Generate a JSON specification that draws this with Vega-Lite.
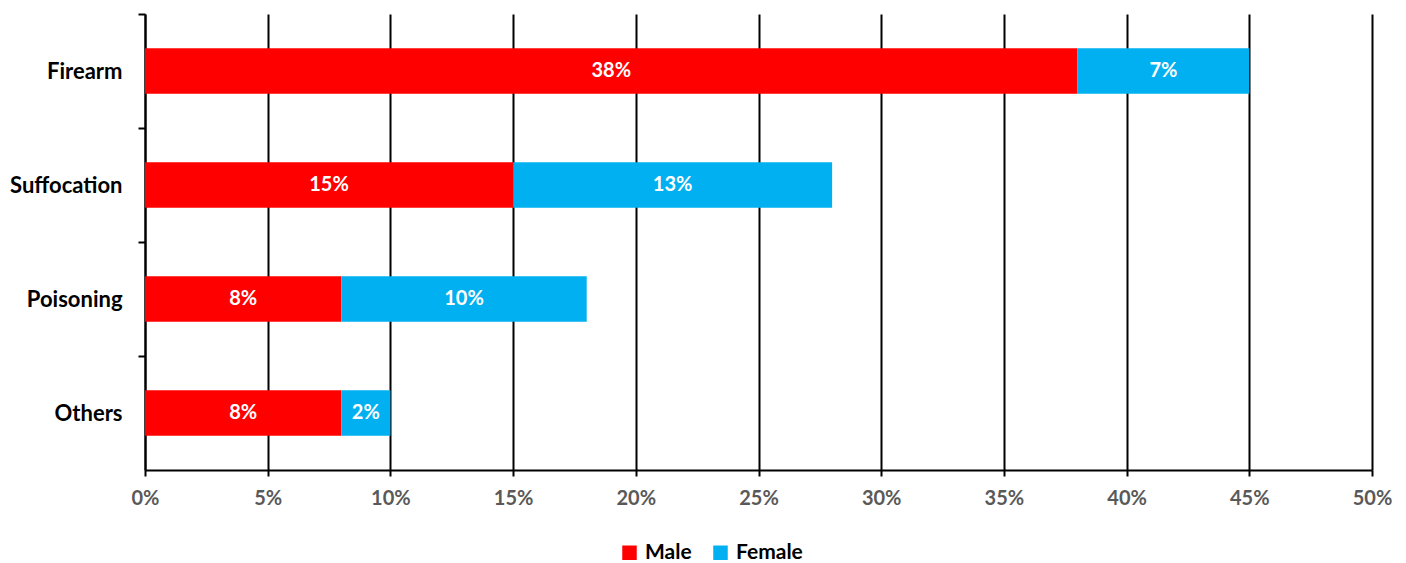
{
  "$schema": "https://vega.github.io/schema/vega-lite/v6.json",
  "width": 1227,
  "height": 456,
  "autosize": "none",
  "padding": {"left": 145, "top": 14, "right": 34, "bottom": 93},
  "background": "white",
  "config": {
    "view": {"stroke": null},
    "font": "Lato",
    "axis": {"labelFont": "Lato", "labelFontWeight": "bold", "labelFontSize": 20}
  },
  "data": {
    "values": [
      {"method": "Firearm", "sex": "Male", "value": 0.38, "ord": 1},
      {"method": "Firearm", "sex": "Female", "value": 0.07, "ord": 2},
      {"method": "Suffocation", "sex": "Male", "value": 0.15, "ord": 1},
      {"method": "Suffocation", "sex": "Female", "value": 0.13, "ord": 2},
      {"method": "Poisoning", "sex": "Male", "value": 0.08, "ord": 1},
      {"method": "Poisoning", "sex": "Female", "value": 0.10, "ord": 2},
      {"method": "Others", "sex": "Male", "value": 0.08, "ord": 1},
      {"method": "Others", "sex": "Female", "value": 0.02, "ord": 2}
    ]
  },
  "encoding": {
    "y": {
      "field": "method",
      "type": "nominal",
      "sort": ["Firearm", "Suffocation", "Poisoning", "Others"],
      "scale": {"paddingInner": 0.6, "paddingOuter": 0.3},
      "axis": {
        "title": null,
        "domainColor": "black",
        "domainWidth": 2,
        "tickColor": "black",
        "tickWidth": 2,
        "tickSize": 7,
        "tickOffset": -57,
        "labelOffset": 57,
        "labelPadding": 16,
        "labelFontSize": 22,
        "labelColor": "black",
        "grid": false
      }
    }
  },
  "layer": [
    {
      "mark": {"type": "bar"},
      "encoding": {
        "x": {
          "field": "value",
          "type": "quantitative",
          "stack": "zero",
          "scale": {"domain": [0, 0.5], "nice": false},
          "axis": {
            "title": null,
            "format": ".0%",
            "values": [0, 0.05, 0.1, 0.15, 0.2, 0.25, 0.3, 0.35, 0.4, 0.45, 0.5],
            "labelFlush": false,
            "grid": true,
            "gridColor": "black",
            "gridWidth": 2,
            "gridOpacity": 1,
            "domainColor": "black",
            "domainWidth": 2,
            "tickColor": "black",
            "tickWidth": 2,
            "tickSize": 6,
            "labelPadding": 12,
            "labelColor": "#595959"
          }
        },
        "color": {
          "field": "sex",
          "type": "nominal",
          "scale": {"domain": ["Male", "Female"], "range": ["#FF0000", "#00B0F0"]},
          "legend": {
            "title": null,
            "orient": "none",
            "direction": "horizontal",
            "legendX": 474,
            "legendY": 528,
            "symbolType": "square",
            "symbolSize": 210,
            "symbolStrokeWidth": 0,
            "symbolOpacity": 1,
            "labelFont": "Lato",
            "labelFontWeight": "bold",
            "labelFontSize": 21,
            "labelColor": "black",
            "columnPadding": 18,
            "labelOffset": 5
          }
        },
        "order": {"field": "ord", "type": "quantitative"}
      }
    },
    {
      "mark": {"type": "text", "color": "white", "font": "Lato", "fontWeight": "bold", "fontSize": 20, "align": "center", "baseline": "middle"},
      "encoding": {
        "x": {"field": "value", "type": "quantitative", "stack": "zero", "bandPosition": 0.5},
        "text": {"field": "value", "type": "quantitative", "format": ".0%"},
        "detail": {"field": "sex"},
        "order": {"field": "ord", "type": "quantitative"}
      }
    }
  ]
}
